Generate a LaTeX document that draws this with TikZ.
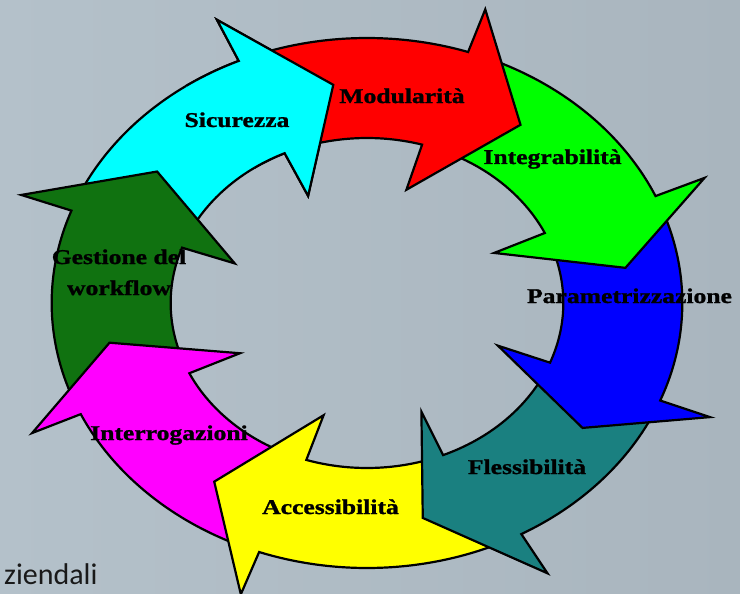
\documentclass[tikz,border=0pt]{standalone}
\usepackage{fontspec}
\newfontfamily\lblfont[FakeStretch=1.22,FakeBold=1.2]{Liberation Serif}
\newfontfamily\azfont{Carlito}
\definecolor{bgL}{HTML}{B4C1CA}
\definecolor{bgM}{HTML}{9AA5AD}
\definecolor{bgR}{HTML}{A9B5BE}
\definecolor{cRed}{HTML}{FF0000}
\definecolor{cGreen}{HTML}{00FF00}
\definecolor{cBlue}{HTML}{0000FF}
\definecolor{cTeal}{HTML}{1A8080}
\definecolor{cYellow}{HTML}{FFFF00}
\definecolor{cMagenta}{HTML}{FF00FF}
\definecolor{cDGreen}{HTML}{107210}
\definecolor{cCyan}{HTML}{00FFFF}
% #1 colour, #2 tail angle, #3 outer base angle, #4 tip angle, #5 inner base angle
\newcommand\cyclearrow[5]{%
  \path[arr, fill=#1] (#2:265) arc[start angle=#2, end angle=#3, radius=265]
    -- (#3:310) -- (#4:220) -- (#5:118) -- (#5:165)
    arc[start angle=#5, end angle=#2, radius=165] -- cycle;}
\begin{document}
\begin{tikzpicture}[x=1pt,y=1pt,
  arr/.style={draw=black, line width=2.2pt, line join=miter},
  lbl/.style={font=\fontsize{21}{31}\selectfont\lblfont\bfseries, inner sep=0pt, anchor=base, text=black}]
\useasboundingbox (0,0) rectangle (740,-594);
\clip (0,0) rectangle (740,-594);
\shade[left color=bgL, middle color=bgM, right color=bgR] (0,0) rectangle (740,-594);
\node[font=\fontsize{30}{36}\selectfont\azfont, text=black!90, inner sep=0pt, anchor=base west] (az) at (4,-584) {ziendali};
\begin{scope}[shift={(367,-303)}, xscale=1.19]
  % drawn so that each head lies over the tail of the next arrow
  \cyclearrow{cCyan}{155.8}{114}{97.4}{114.8}
  \cyclearrow{cDGreen}{201.4}{159.6}{143.3}{160.4}
  \cyclearrow{cMagenta}{-113.2}{-155.2}{-169.6}{-154.8}
  \cyclearrow{cYellow}{-67.4}{-110}{-125.7}{-108}
  \cyclearrow{cTeal}{-24.7}{-60.7}{-77.7}{-67.2}
  \cyclearrow{cBlue}{20.7}{-21.6}{-34.6}{-21.2}
  \cyclearrow{cGreen}{67.9}{23.8}{9.2}{25.1}
  \cyclearrow{cRed}{110.2}{71.3}{54.1}{73.7}
  \begin{scope}
    \clip (0,0) -- (85:420) -- (105:420) -- (125:420) -- cycle;
    \cyclearrow{cCyan}{155.8}{114}{97.4}{114.8}
  \end{scope}
\end{scope}
\node[lbl] (modul) at (402,-103) {Modularità};
\node[lbl] (sicur) at (237,-127) {Sicurezza};
\node[lbl] (integ) at (552.5,-164) {Integrabilità};
\node[lbl] (param) at (629.5,-303) {Parametrizzazione};
\node[lbl] (fless) at (527,-474) {Flessibilità};
\node[lbl] (acces) at (330.5,-514) {Accessibilità};
\node[lbl] (inter) at (169,-440) {Interrogazioni};
\node[lbl] (gest) at (119,-264) {\begin{tabular}[t]{@{}c@{}}Gestione del\\workflow\end{tabular}};
\end{tikzpicture}
\end{document}
